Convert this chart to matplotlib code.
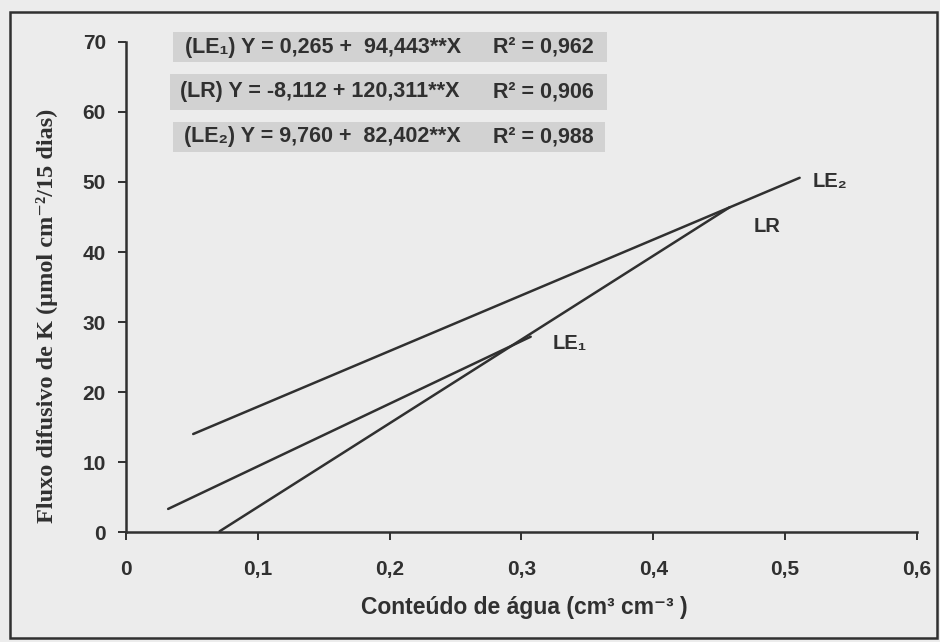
import matplotlib.pyplot as plt
from matplotlib.patches import Rectangle

# line end points
le1_x = [0.032, 0.307]
le1_y = [3.3, 27.9]
lr_x = [0.071, 0.458]
lr_y = [0.1, 46.4]
le2_x = [0.051, 0.511]
le2_y = [14.0, 50.6]

xticks = [0, 0.1, 0.2, 0.3, 0.4, 0.5, 0.6]
xtick_labels = ['0', '0,1', '0,2', '0,3', '0,4', '0,5', '0,6']
yticks = [0, 10, 20, 30, 40, 50, 60, 70]

eq_left = ['(LE\u2081) Y = 0,265 +  94,443**X',
           '(LR) Y = -8,112 + 120,311**X',
           '(LE\u2082) Y = 9,760 +  82,402**X']
eq_r2 = ['R\u00b2 = 0,962', 'R\u00b2 = 0,906', 'R\u00b2 = 0,988']

sans = ['Liberation Sans', 'DejaVu Sans']
serif = ['Liberation Serif', 'DejaVu Serif']
ink = '#303030'
bg = '#ececec'

fig = plt.figure(figsize=(9.4, 6.42), dpi=100, facecolor=bg)
ax = fig.add_axes([0.134, 0.1713, 0.8415, 0.7633])
ax.set_facecolor(bg)

for xs, ys in [(le1_x, le1_y), (lr_x, lr_y), (le2_x, le2_y)]:
    ax.plot(xs, ys, color=ink, lw=1.8, solid_capstyle='round')

ax.set_xlim(0, 0.6)
ax.set_ylim(0, 70)
ax.set_xticks(xticks)
ax.set_xticklabels(xtick_labels)
ax.set_yticks(yticks)
for s in ['top', 'right']:
    ax.spines[s].set_visible(False)
for s in ['left', 'bottom']:
    ax.spines[s].set_linewidth(1.8)
    ax.spines[s].set_color(ink)
ax.tick_params(axis='both', direction='out', length=5.5, width=1.4, color=ink,
               labelcolor=ink, labelsize=15)
ax.tick_params(axis='x', pad=15)
ax.tick_params(axis='y', pad=9)
for lab in ax.get_xticklabels() + ax.get_yticklabels():
    lab.set_family(sans)
    lab.set_fontweight('bold')

# line labels
ax.text(0.324, 27.0, 'LE\u2081', family=sans, fontweight='bold', fontsize=14.5,
        color=ink, va='center')
ax.text(0.476, 43.6, 'LR', family=sans, fontweight='bold', fontsize=14.5,
        color=ink, va='center')
ax.text(0.5205, 50.0, 'LE\u2082', family=sans, fontweight='bold', fontsize=14.5,
        color=ink, va='center')

# equation boxes (axes fraction)
boxes = [(0.059, 0.959, 0.549, 0.061),
         (0.0556, 0.861, 0.552, 0.074),
         (0.059, 0.776, 0.547, 0.061)]
text_x = [0.0745, 0.068, 0.073]
for i in range(3):
    x0, y0, w, h = boxes[i]
    ax.add_patch(Rectangle((x0, y0), w, h, transform=ax.transAxes,
                           facecolor='#d2d2d2', edgecolor='none', clip_on=False))
    yc = y0 + h / 2
    ax.text(text_x[i], yc, eq_left[i], transform=ax.transAxes, family=sans,
            fontweight='bold', fontsize=15.5, color=ink, va='center')
    ax.text(0.464, yc, eq_r2[i], transform=ax.transAxes, family=sans,
            fontweight='bold', fontsize=15.5, color=ink, va='center')

fig.text(0.05, 1 - 316 / 642, 'Fluxo difusivo de K (\u00b5mol cm\u207b\u00b2/15 dias)',
         rotation=90, family=serif, fontweight='bold', fontsize=17.5, color=ink,
         ha='center', va='center')
fig.text(524 / 940, 0.0545, 'Conte\u00fado de \u00e1gua (cm\u00b3 cm\u207b\u00b3 )',
         family=sans, fontweight='bold', fontsize=16.5, color=ink,
         ha='center', va='center')

# outer frame
fig.patches.append(Rectangle((0.0106, 0.006), 0.986, 0.975, transform=fig.transFigure,
                             facecolor='none', edgecolor=ink, lw=1.8))

fig.savefig('out.png', dpi=100, facecolor=bg)
